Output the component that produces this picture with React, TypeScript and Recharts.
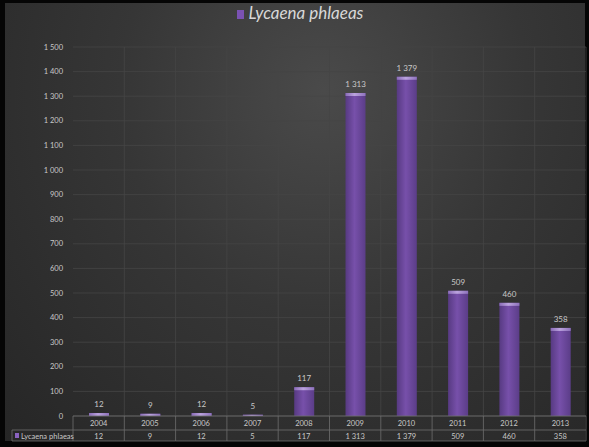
import React from "react"
import { BarChart, Bar, XAxis, YAxis, CartesianGrid, LabelList } from "recharts"

const years = ["2004", "2005", "2006", "2007", "2008", "2009", "2010", "2011", "2012", "2013"]
const counts = [12, 9, 12, 5, 117, 1313, 1379, 509, 460, 358]
const yTicks = [0, 100, 200, 300, 400, 500, 600, 700, 800, 900, 1000, 1100, 1200, 1300, 1400, 1500]
const seriesName = "Lycaena phlaeas"

const data = years.map((year, i) => ({ year, count: counts[i] }))

const W = 589
const H = 447
const MARGIN = { top: 47, right: 3, left: 0, bottom: 6 }
const Y_AXIS_W = 73
const PLOT_W = W - MARGIN.left - MARGIN.right - Y_AXIS_W
const COL_W = PLOT_W / years.length
const FONT = "Lato, 'Open Sans', sans-serif"
const TEXT = "#c8c8c8"
const LINE = "#6e6e6e"

// thousands separated by a no-break space so labels never wrap
const fmt = (v: number | string) => String(v).replace(/\B(?=(\d{3})+(?!\d))/g, "\u00a0")

function TableTick(props: any) {
  const { x, y, payload, index } = props
  const top = y
  const row = 14
  const left = x - COL_W / 2
  const right = x + COL_W / 2
  return (
    <g>
      <line x1={right} y1={top} x2={right} y2={top + row + 11} stroke={LINE} strokeWidth={0.8} />
      <line x1={left} y1={top + row} x2={right} y2={top + row} stroke={LINE} strokeWidth={0.8} />
      <line x1={left} y1={top + row + 11} x2={right} y2={top + row + 11} stroke={LINE} strokeWidth={0.8} />
      <text x={x} y={top + 10} textAnchor="middle" fontSize={7.5} fill={TEXT} fontFamily={FONT}>
        {payload.value}
      </text>
      <text x={x} y={top + row + 8.5} textAnchor="middle" fontSize={7.5} fill={TEXT} fontFamily={FONT}>
        {fmt(counts[index])}
      </text>
      {index === 0 && (
        <g>
          <line x1={left} y1={top} x2={left} y2={top + row + 11} stroke={LINE} strokeWidth={0.8} />
          <line x1={12} y1={top + row} x2={left} y2={top + row} stroke={LINE} strokeWidth={0.8} />
          <line x1={12} y1={top + row + 11} x2={left} y2={top + row + 11} stroke={LINE} strokeWidth={0.8} />
          <line x1={12} y1={top + row} x2={12} y2={top + row + 11} stroke={LINE} strokeWidth={0.8} />
          <rect x={15} y={top + row + 3} width={4} height={5} fill="#8a62c0" />
          <text x={21} y={top + row + 8.5} fontSize={7.5} fill={TEXT} fontFamily={FONT}>
            {seriesName}
          </text>
        </g>
      )}
    </g>
  )
}

function BarShape(props: any) {
  const { x, y, width, height } = props
  if (height <= 0) return null
  const cap = Math.min(3, height)
  return (
    <g>
      <rect x={x} y={y} width={width} height={height} fill="url(#barGrad)" />
      <rect x={x} y={y} width={width} height={cap} fill="url(#capGrad)" />
    </g>
  )
}

function TopLabel(props: any) {
  const { x, y, width, value } = props
  return (
    <text x={x + width / 2} y={y - 6} textAnchor="middle" fontSize={8} fill={TEXT} fontFamily={FONT}>
      {fmt(value)}
    </text>
  )
}

export default function App() {
  return (
    <div style={{ position: "fixed", left: 0, top: 0, width: W, height: H, background: "#050505" }}>
      <div
        style={{
          position: "absolute",
          left: 5,
          top: 3,
          width: W - 9,
          height: H - 9,
          background: "radial-gradient(ellipse at 55% 20%, #4a4a4a 0%, #363636 45%, #262626 100%)",
        }}
      />
      <div
        style={{
          position: "absolute",
          left: 0,
          width: 600,
          top: 2,
          textAlign: "center",
          fontFamily: FONT,
          fontStyle: "italic",
          fontSize: 17,
          color: "#d8d8d8",
        }}
      >
        <span style={{ display: "inline-block", width: 7, height: 9, background: "#7a52b3", marginRight: 5 }} />
        {seriesName}
      </div>
      <div style={{ position: "absolute", left: 0, top: 0 }}>
        <BarChart width={W} height={H} data={data} margin={MARGIN} barSize={20}>
          <defs>
            <linearGradient id="barGrad" x1="0" y1="0" x2="1" y2="0">
              <stop offset="0%" stopColor="#573a82" />
              <stop offset="45%" stopColor="#7750aa" />
              <stop offset="100%" stopColor="#5b3d88" />
            </linearGradient>
            <linearGradient id="capGrad" x1="0" y1="0" x2="1" y2="0">
              <stop offset="0%" stopColor="#8a6cb8" />
              <stop offset="45%" stopColor="#bba3de" />
              <stop offset="100%" stopColor="#8e72bc" />
            </linearGradient>
          </defs>
          <CartesianGrid
            stroke="#454545"
            strokeWidth={0.8}
            verticalCoordinatesGenerator={({ offset }: any) =>
              years.map((_, i) => offset.left + (i + 1) * (offset.width / years.length))
            }
          />
          <XAxis
            dataKey="year"
            height={25}
            axisLine={{ stroke: LINE, strokeWidth: 0.8 }}
            tickLine={false}
            tickSize={0}
            tickMargin={0}
            interval={0}
            tick={<TableTick />}
          />
          <YAxis
            width={Y_AXIS_W}
            domain={[0, 1500]}
            ticks={yTicks}
            axisLine={false}
            tickLine={false}
            tickMargin={4}
            tickFormatter={fmt}
            tick={{ fontSize: 7.5, fill: TEXT, fontFamily: FONT }}
          />
          <Bar dataKey="count" shape={<BarShape />} isAnimationActive={false}>
            <LabelList dataKey="count" content={<TopLabel />} />
          </Bar>
        </BarChart>
      </div>
    </div>
  )
}
